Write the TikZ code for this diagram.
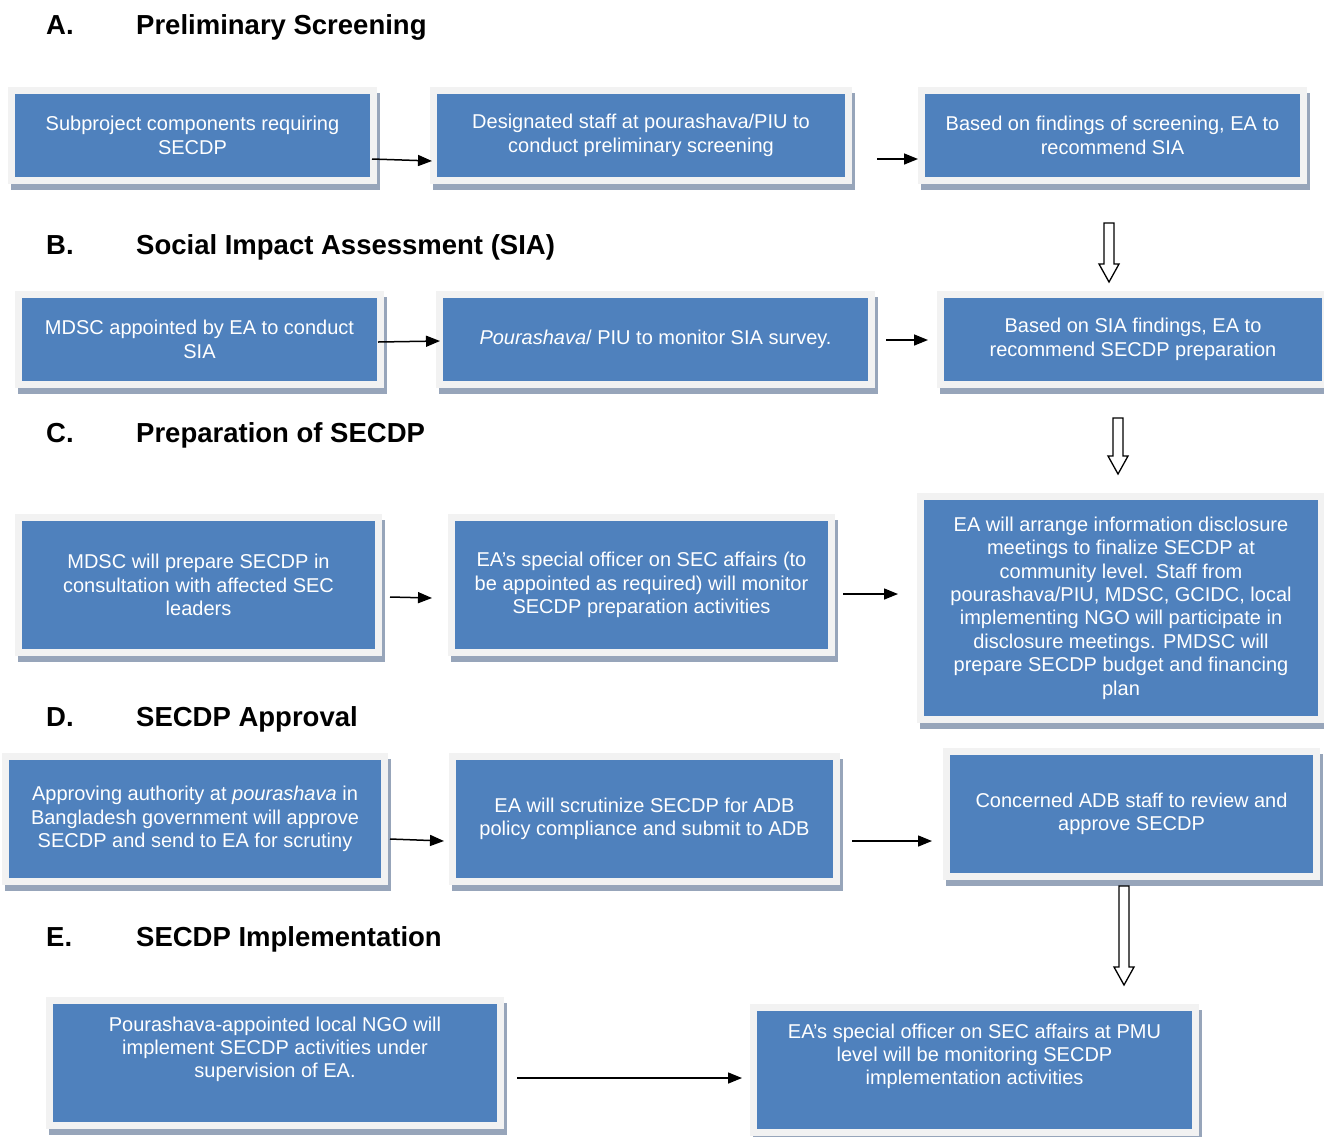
\documentclass[tikz,border=0pt]{standalone}
\usepackage{fontspec}
\setmainfont{Liberation Sans}
\usepackage{tikz}
\usetikzlibrary{calc,arrows.meta}
\definecolor{boxblue}{HTML}{4F81BD}
\definecolor{framegray}{HTML}{F2F2F2}
\definecolor{shadowgray}{HTML}{97A5BA}
\tikzset{
  secbox/.style={rectangle, fill=boxblue, draw=framegray, line width=7pt, outer sep=0pt,
    inner sep=0pt, text=white, align=center, font=\fontsize{20}{23.4}\selectfont,
    preaction={draw=shadowgray, fill=shadowgray, transform canvas={xshift=3pt,yshift=-6pt}}},
  head/.style={anchor=base west, inner sep=0pt, font=\fontsize{27.5}{30}\bfseries\selectfont},
  arr/.style={-{Triangle[length=14pt,width=11pt]}, line width=1.5pt},
  hollow/.style={draw, fill=white, line width=1.3pt, line join=miter,
    to path={let \p1=(\tikztostart), \p2=(\tikztotarget) in
      (\x1-5pt,\y1) -- (\x1+5pt,\y1) -- (\x1+5pt,\y2+18pt) -- (\x1+10pt,\y2+18pt)
      -- (\x1,\y2) -- (\x1-10pt,\y2+18pt) -- (\x1-5pt,\y2+18pt) -- cycle}}
}

\begin{document}
\begin{tikzpicture}[x=1pt,y=-1pt]
\useasboundingbox (0,0) rectangle (1324,1136);
% headings
\node[head] (hA) at (46,34) {A.};
\node[head] (tA) at (136,34) {Preliminary Screening};
\node[head] (hB) at (46,254) {B.};
\node[head] (tB) at (136,254) {Social Impact Assessment (SIA)};
\node[head] (hC) at (46,442) {C.};
\node[head] (tC) at (136,442) {Preparation of SECDP};
\node[head] (hD) at (46,726) {D.};
\node[head] (tD) at (136,726) {SECDP Approval};
\node[head] (hE) at (46,946) {E.};
\node[head] (tE) at (136,946) {SECDP Implementation};
% A
\node[secbox, minimum width=362pt, minimum height=90pt] (A1) at (192.5,135.5) {Subproject components requiring\\SECDP};
\node[secbox, minimum width=415pt, minimum height=90pt] (A2) at (641,135.5) {Designated staff at pourashava/PIU to\\conduct preliminary screening};
\node[secbox, minimum width=382pt, minimum height=90pt] (A3) at (1112.5,135.5) {Based on findings of screening, EA to\\recommend SIA};
% B
\node[secbox, minimum width=362pt, minimum height=90pt] (B1) at (199.5,339.5) {MDSC appointed by EA to conduct\\SIA};
\node[secbox, minimum width=432pt, minimum height=90pt] (B2) at (655.5,339.5) {\textit{Pourashava}/ PIU to monitor SIA survey.};
\node[secbox, minimum width=385pt, minimum height=90pt] (B3) at (1133,339.5) {Based on SIA findings, EA to\\recommend SECDP preparation};
% C
\node[secbox, minimum width=360pt, minimum height=135pt] (C1) at (198.5,585) {MDSC will prepare SECDP in\\consultation with affected SEC\\leaders};
\node[secbox, minimum width=380pt, minimum height=135pt] (C2) at (641.5,585) {EA’s special officer on SEC affairs (to\\be appointed as required) will monitor\\SECDP preparation activities};
\node[secbox, minimum width=401pt, minimum height=223pt] (C3) at (1121,608) {EA will arrange information disclosure\\meetings to finalize SECDP at\\community level. Staff from\\pourashava/PIU, MDSC, GCIDC, local\\implementing NGO will participate in\\disclosure meetings. PMDSC will\\prepare SECDP budget and financing\\plan};
% D
\node[secbox, minimum width=379pt, minimum height=125pt] (D1) at (195,819) {Approving authority at \textit{pourashava} in\\Bangladesh government will approve\\SECDP and send to EA for scrutiny};
\node[secbox, minimum width=384pt, minimum height=125pt] (D2) at (644.5,819) {EA will scrutinize SECDP for ADB\\policy compliance and submit to ADB};
\node[secbox, minimum width=370pt, minimum height=125pt] (D3) at (1131.5,814) {Concerned ADB staff to review and\\approve SECDP};
% E
\node[secbox, minimum width=451pt, minimum height=125pt] (E1) at (275,1063) {Pourashava-appointed local NGO will\\implement SECDP activities under\\supervision of EA.\\[8pt]\mbox{}};
\node[secbox, minimum width=442pt, minimum height=125pt] (E2) at (974.5,1070) {EA’s special officer on SEC affairs at PMU\\level will be monitoring SECDP\\implementation activities\\[8pt]\mbox{}};
% arrows
\draw[arr] ([xshift=-1.5pt,yshift=-23.5pt]A1.east) -- ([xshift=-1.5pt,yshift=-25.5pt]A2.west);
\draw[arr] ([xshift=28.5pt,yshift=-23.5pt]A2.east) -- ([xshift=-3.5pt,yshift=-23.5pt]A3.west);
\draw[arr] ([xshift=-2.5pt,yshift=-2.5pt]B1.east) -- ([xshift=0.5pt,yshift=-1.5pt]B2.west);
\draw[arr] ([xshift=14.5pt,yshift=-0.5pt]B2.east) -- ([xshift=-12.5pt,yshift=-0.5pt]B3.west);
\draw[arr] ([xshift=11.5pt,yshift=-12pt]C1.east) -- ([xshift=-19.5pt,yshift=-13pt]C2.west);
\draw[arr] ([xshift=11.5pt,yshift=-9pt]C2.east) -- ([xshift=-22.5pt,yshift=14pt]C3.west);
\draw[arr] ([xshift=5.5pt,yshift=-20pt]D1.east) -- ([xshift=-8.5pt,yshift=-22pt]D2.west);
\draw[arr] ([xshift=15.5pt,yshift=-22pt]D2.east) -- ([xshift=-14.5pt,yshift=-27pt]D3.west);
\draw[arr] ([xshift=16.5pt,yshift=-15pt]E1.east) -- ([xshift=-11.5pt,yshift=-8pt]E2.west);
\draw[hollow] ([xshift=-3.5pt,yshift=-42.5pt]A3.south) to ([yshift=12.5pt]B3.north);
\draw[hollow] ([xshift=-15pt,yshift=-33.5pt]B3.south) to ([yshift=22.5pt]C3.north);
\draw[hollow] ([xshift=-7.5pt,yshift=-9.5pt]D3.south) to ([yshift=22.5pt]E2.north);
\end{tikzpicture}
\end{document}
